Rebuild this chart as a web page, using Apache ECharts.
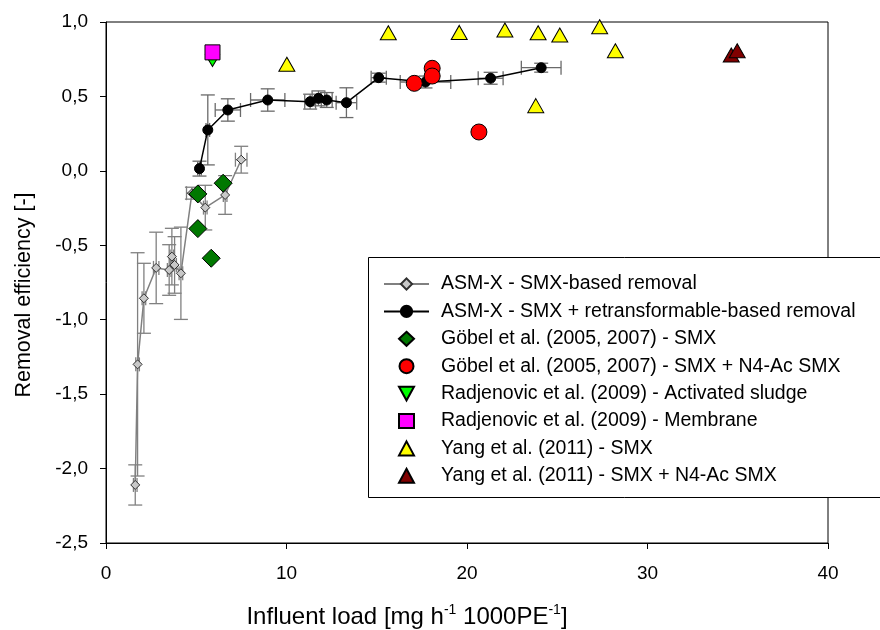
<!DOCTYPE html>
<html>
<head>
<meta charset="utf-8">
<script src="https://cdn.jsdelivr.net/npm/echarts@6/dist/echarts.min.js"></script>
<style>
  html, body { margin: 0; padding: 0; background: #fff; }
  #main { width: 880px; height: 630px; }
</style>
</head>
<body>
<div id="main"></div>
<script>
var chart = echarts.init(document.getElementById('main'));

// ASM-X, SMX-based removal (grey diamonds with error bars)
var smxX    = [1.62, 1.75, 2.10, 2.78, 3.50, 3.65, 3.80, 4.15, 4.76, 5.50, 6.60, 7.49];
var smxY    = [-2.11, -1.30, -0.856, -0.652, -0.666, -0.576, -0.632, -0.688, -0.15, -0.247, -0.162, 0.075];
var smxYErr = [0.135, 0.75, 0.235, 0.24, 0.17, 0.19, 0.19, 0.31, 0.04, 0.15, 0.13, 0.09];
var smxXErr = [0.1, 0.1, 0.1, 0.15, 0.1, 0.1, 0.1, 0.1, 0.3, 0.1, 0.1, 0.32];

// ASM-X, SMX + retransformable-based removal (black dots)
var retX    = [5.18, 5.64, 6.75, 8.96, 11.31, 11.77, 12.23, 13.32, 15.11, 17.70, 21.31, 24.11];
var retY    = [0.015, 0.275, 0.409, 0.476, 0.465, 0.487, 0.476, 0.458, 0.626, 0.597, 0.622, 0.693];
var retYErr = [0.05, 0.235, 0.075, 0.075, 0.05, 0.05, 0.05, 0.1, 0.03, 0.04, 0.04, 0.03];
var retXErr = [0.1, 0.1, 0.7, 0.95, 0.3, 0.35, 0.3, 0.57, 0.42, 1.4, 0.69, 1.1];

// literature values
var goebelSmxX = [6.49, 5.09, 5.09, 5.83];
var goebelSmxY = [-0.083, -0.155, -0.388, -0.587];
var goebelN4X  = [17.08, 18.07, 18.07, 20.66];
var goebelN4Y  = [0.588, 0.689, 0.637, 0.261];
var radjAsX  = [5.90];
var radjAsY  = [0.74];
var radjMemX = [5.90];
var radjMemY = [0.796];
var yangSmxX = [10.02, 15.64, 19.57, 22.10, 23.94, 25.14, 27.35, 28.22, 23.81];
var yangSmxY = [0.716, 0.928, 0.930, 0.946, 0.928, 0.913, 0.968, 0.807, 0.438];
var yangN4X  = [34.64, 34.97];
var yangN4Y  = [0.778, 0.807];

var names = [
  'ASM-X - SMX-based removal',
  'ASM-X - SMX + retransformable-based removal',
  'Göbel et al. (2005, 2007) - SMX',
  'Göbel et al. (2005, 2007) - SMX + N4-Ac SMX',
  'Radjenovic et al. (2009) - Activated sludge',
  'Radjenovic et al. (2009) - Membrane',
  'Yang et al. (2011) - SMX',
  'Yang et al. (2011) - SMX + N4-Ac SMX'
];

function pairs(xs, ys) {
  return xs.map(function (x, i) { return [x, ys[i]]; });
}
function errRows(xs, ys, xe, ye) {
  return xs.map(function (x, i) { return [x, ys[i], xe[i], ye[i]]; });
}

var FONT = 'Liberation Sans, Arial, sans-serif';

function errRender(color) {
  return function (params, api) {
    var x = api.value(0), y = api.value(1), ex = api.value(2), ey = api.value(3);
    var cap = 7;
    var st = { stroke: color, lineWidth: 1.3 };
    var kids = [];
    function seg(x1, y1, x2, y2) {
      kids.push({ type: 'line', shape: { x1: x1, y1: y1, x2: x2, y2: y2 }, style: st });
    }
    if (ey > 0) {
      var t = api.coord([x, y + ey]), b = api.coord([x, y - ey]);
      seg(t[0], t[1], b[0], b[1]);
      seg(t[0] - cap, t[1], t[0] + cap, t[1]);
      seg(b[0] - cap, b[1], b[0] + cap, b[1]);
    }
    if (ex > 0) {
      var l = api.coord([x - ex, y]), r = api.coord([x + ex, y]);
      seg(l[0], l[1], r[0], r[1]);
      seg(l[0], l[1] - cap, l[0], l[1] + cap);
      seg(r[0], r[1] - cap, r[0], r[1] + cap);
    }
    return { type: 'group', children: kids };
  };
}

function scatter(name, xs, ys, symbol, size, color, z) {
  return {
    name: name, type: 'scatter', data: pairs(xs, ys), z: z || 5,
    symbol: symbol, symbolSize: size, symbolKeepAspect: true,
    itemStyle: { color: color, borderColor: '#000', borderWidth: 1, opacity: 1 }
  };
}

var legendText = { fontFamily: FONT, fontSize: 19.5, color: '#000', lineHeight: 20 };

var option = {
  animation: false,
  backgroundColor: '#fff',
  grid: {
    left: 106, top: 22, width: 722, height: 521,
    outerBoundsMode: 'none', containLabel: false,
    show: true, borderColor: '#000', borderWidth: 1
  },
  xAxis: {
    type: 'value', min: 0, max: 40, interval: 10,
    name: 'Influent load [mg h{sup|-1} 1000PE{sup|-1}]',
    nameLocation: 'middle', nameGap: 60,
    nameTextStyle: {
      fontFamily: FONT, fontSize: 24, color: '#000', lineHeight: 28,
      padding: [0, 120, 0, 0],
      rich: { sup: { fontFamily: FONT, fontSize: 14, verticalAlign: 'top', lineHeight: 16, color: '#000' } }
    },
    axisLine: { onZero: false, lineStyle: { color: '#000', width: 1 } },
    axisTick: { inside: false, length: 6, lineStyle: { color: '#000' } },
    axisLabel: { fontFamily: FONT, fontSize: 19, color: '#000', margin: 21 },
    splitLine: { show: false }
  },
  yAxis: {
    type: 'value', min: -2.5, max: 1, interval: 0.5,
    name: 'Removal efficiency [-]',
    nameLocation: 'middle', nameGap: 71,
    nameTextStyle: { fontFamily: FONT, fontSize: 21.5, color: '#000', padding: [0, 25, 0, 0] },
    axisLine: { onZero: false, lineStyle: { color: '#000', width: 1 } },
    axisTick: { inside: false, length: 6, lineStyle: { color: '#000' } },
    axisLabel: {
      fontFamily: FONT, fontSize: 19, color: '#000', margin: 18,
      formatter: function (v) { return v.toFixed(1).replace('.', ','); }
    },
    splitLine: { show: false }
  },
  // legend frame, drawn behind the two legend blocks
  graphic: [{
    type: 'rect', z: 7,
    shape: { x: 368.5, y: 257.5, width: 530, height: 240 },
    style: { fill: '#fff', stroke: '#000', lineWidth: 1 }
  }],
  legend: [
    {
      orient: 'vertical', left: 383, top: 274, padding: 0, z: 10,
      itemWidth: 45, itemHeight: 14, itemGap: 7.4,
      textStyle: Object.assign({ padding: [0, 0, 0, 7] }, legendText),
      data: names.slice(0, 2)
    },
    {
      orient: 'vertical', left: 398, top: 328.8, padding: 0, z: 10,
      itemWidth: 15, itemHeight: 14, itemGap: 7.4,
      textStyle: Object.assign({ padding: [0, 0, 0, 22] }, legendText),
      data: names.slice(2)
    }
  ],
  series: [
    {
      type: 'custom', renderItem: errRender('#808080'),
      data: errRows(smxX, smxY, smxXErr, smxYErr), encode: { x: 0, y: 1 }, z: 1, silent: true
    },
    {
      name: names[0], type: 'line', data: pairs(smxX, smxY), z: 2,
      symbol: 'diamond', symbolSize: 9, symbolKeepAspect: true,
      lineStyle: { color: '#808080', width: 1.5 },
      itemStyle: { color: '#c8c8c8', borderColor: '#303030', borderWidth: 1 }
    },
    {
      type: 'custom', renderItem: errRender('#6a6a6a'),
      data: errRows(retX, retY, retXErr, retYErr), encode: { x: 0, y: 1 }, z: 3, silent: true
    },
    {
      name: names[1], type: 'line', data: pairs(retX, retY), z: 4,
      symbol: 'circle', symbolSize: 10,
      lineStyle: { color: '#000', width: 1.5 },
      itemStyle: { color: '#000', borderColor: '#000', borderWidth: 1 }
    },
    scatter(names[2], goebelSmxX, goebelSmxY, 'diamond', 18, '#007800'),
    scatter(names[3], goebelN4X, goebelN4Y, 'circle', 16, '#ff0000'),
    scatter(names[4], radjAsX, radjAsY, 'path://M0,0 L10,0 L5,9 Z', [14, 13], '#00ff00'),
    scatter(names[5], radjMemX, radjMemY, 'rect', 15, '#ff00ff', 6),
    scatter(names[6], yangSmxX, yangSmxY, 'triangle', [16, 14], '#ffff00'),
    scatter(names[7], yangN4X, yangN4Y, 'triangle', [16, 14], '#800000')
  ]
};

chart.setOption(option);
</script>
</body>
</html>
